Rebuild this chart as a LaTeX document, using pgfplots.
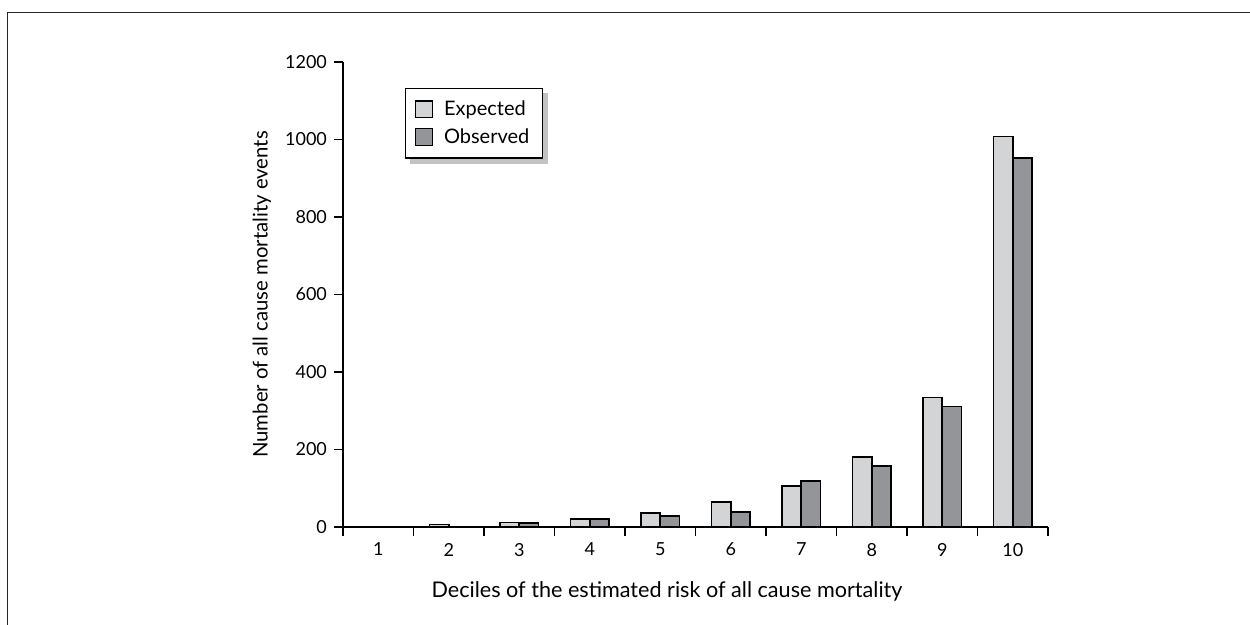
\documentclass[border=0pt]{standalone}
\usepackage{fontspec}
\setmainfont{Lato}
\usepackage{pgfplots}
\pgfplotsset{compat=1.18}
\pgfdeclarelayer{background}
\pgfsetlayers{background,main}
\definecolor{expc}{RGB}{211,212,214}
\definecolor{obsc}{RGB}{147,149,152}
\definecolor{shad}{RGB}{195,195,195}
\begin{document}
\begin{tikzpicture}
\path[use as bounding box] (0pt,0pt) rectangle (625pt,312.5pt);
\draw[line width=0.7pt, black!85] (3.75pt,0pt) -- (3.75pt,306.15pt) -- (625pt,306.15pt);
\begin{axis}[
  at={(171.5pt,49pt)}, anchor=south west,
  scale only axis, width=352.5pt, height=232.5pt,
  xmin=0.5, xmax=10.5, ymin=0, ymax=1200,
  axis lines*=left,
  axis line style={-, line width=0.8pt},
  ybar=0pt, bar width=9.65pt,
  xtick={1,...,10},
  minor xtick={0.5,1.5,...,10.5},
  every major x tick/.append style={draw=none},
  ytick={0,200,...,1200},
  tick align=outside,
  major tick length=4.5pt, minor tick length=4.5pt,
  tick style={line width=0.6pt, black},
  /pgf/number format/assume math mode=true,
  /pgf/number format/1000 sep={},
  tick label style={font=\fontsize{9}{10}\selectfont},
  xlabel={\fontsize{10.8}{12}\selectfont Deciles of the estimated risk of all cause mortality},
  ylabel={\fontsize{10.15}{11}\selectfont Number of all cause mortality events},
  every axis x label/.style={at={(axis description cs:0.4596,-0.1376)}, anchor=center},
  every axis y label/.style={at={(axis description cs:-0.115,0.5)}, rotate=90, anchor=center},
  legend style={name=leg, at={(0.088,0.944)}, anchor=north west, draw=black, line width=0.6pt,
    fill=white, inner xsep=4.5pt, inner ysep=4pt, row sep=1pt,
    cells={anchor=west}},
  legend image code/.code={\draw[#1, line width=0.6pt] (3pt,-4.2pt) rectangle (11.5pt,4.2pt); \path (15pt,0pt);},
]
\addplot[fill=expc, draw=black, line width=0.8pt] coordinates {(1,0) (2,6) (3,12) (4,21) (5,36) (6,64) (7,106) (8,180) (9,334) (10,1008)};
\addplot[fill=obsc, draw=black, line width=0.8pt] coordinates {(1,0) (2,0) (3,11) (4,21) (5,29) (6,38) (7,118) (8,158) (9,311) (10,952)};
\legend{{\fontsize{10}{11}\selectfont Expected},{\fontsize{10}{11}\selectfont Observed}}
\end{axis}
\begin{pgfonlayer}{background}
\fill[shad] ([shift={(2.5pt,-2.5pt)}]leg.south west) rectangle ([shift={(2.5pt,-2.5pt)}]leg.north east);
\end{pgfonlayer}
\end{tikzpicture}
\end{document}
